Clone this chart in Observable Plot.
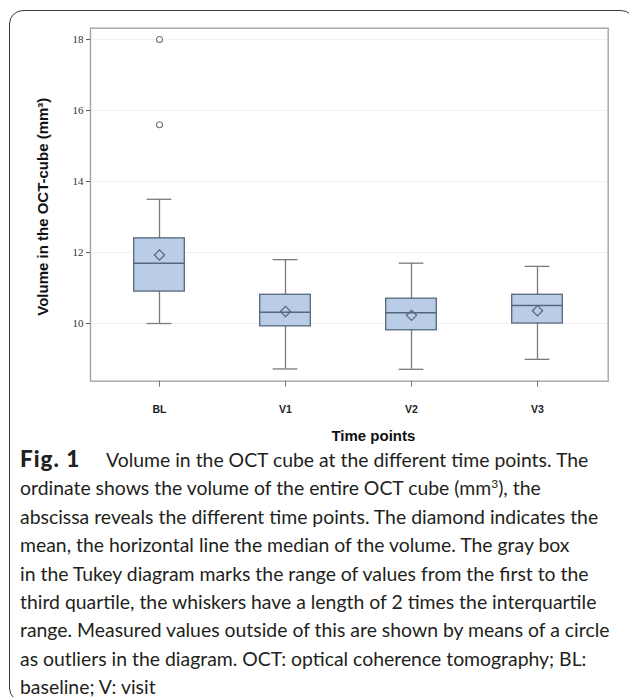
<!DOCTYPE html>
<html>
<head>
<meta charset="utf-8">
<script src="https://cdn.jsdelivr.net/npm/d3@7"></script>
<script src="https://cdn.jsdelivr.net/npm/@observablehq/plot@0.6"></script>
<style>
  html, body { margin: 0; padding: 0; background: #fff; width: 629px; height: 697px; overflow: hidden; }
  #wrap { position: relative; width: 629px; height: 697px; }
  #card { position: absolute; left: 9px; top: 10px; width: 626px; height: 692px; border: 1.3px solid #3a3a3a; border-radius: 14px; box-sizing: border-box; pointer-events: none; }
  #chart { position: absolute; left: 0; top: 0; }
  #caption { position: absolute; left: 20px; top: 446px; font-family: Lato, "Open Sans", sans-serif; font-size: 19.4px; line-height: 28.4px; color: #231f20; }
  #caption div { white-space: nowrap; }
  #caption b { font-weight: 900; font-size: 22.5px; letter-spacing: 1px; display: inline-block; width: 86px; line-height: 20px; }
</style>
</head>
<body>
<div id="wrap">
  <div id="chart"></div>
  <div id="card"></div>
  <div id="caption">
    <div><b>Fig. 1</b>Volume in the OCT cube at the different time points. The</div>
    <div>ordinate shows the volume of the entire OCT cube (mm<sup style="font-size:12px;line-height:0">3</sup>), the</div>
    <div>abscissa reveals the different time points. The diamond indicates the</div>
    <div>mean, the horizontal line the median of the volume. The gray box</div>
    <div>in the Tukey diagram marks the range of values from the first to the</div>
    <div>third quartile, the whiskers have a length of 2 times the interquartile</div>
    <div>range. Measured values outside of this are shown by means of a circle</div>
    <div>as outliers in the diagram. OCT: optical coherence tomography; BL:</div>
    <div>baseline; V: visit</div>
  </div>
</div>
<script>
const categories = ["BL", "V1", "V2", "V3"];
const whiskerLow = [10.0, 8.72, 8.71, 8.99];
const q1 = [10.9, 9.92, 9.81, 10.0];
const median = [11.7, 10.32, 10.3, 10.51];
const q3 = [12.4, 10.81, 10.7, 10.81];
const whiskerHigh = [13.5, 11.8, 11.7, 11.61];
const mean = [11.93, 10.34, 10.23, 10.36];
const outlierGroup = ["BL", "BL"];
const outlierValue = [18.0, 15.6];
const yTicks = [10, 12, 14, 16, 18];
const yTitle = "Volume in the OCT-cube (mm³)";
const xTitle = "Time points";

const boxes = categories.map((c, i) => ({
  group: c, lo: whiskerLow[i], q1: q1[i], med: median[i], q3: q3[i], hi: whiskerHigh[i], mean: mean[i]
}));
const outliers = outlierGroup.map((g, i) => ({group: g, value: outlierValue[i]}));

const boxStroke = "#56677c";
const whiskerColor = "#7b7b7b";
const bandHalfInset = 37.7;
const capInset = 50.6;

const chart = Plot.plot({
  width: 629,
  height: 450,
  marginLeft: 90,
  marginRight: 21.3,
  marginTop: 27.7,
  marginBottom: 69.3,
  style: {background: "transparent", overflow: "visible"},
  x: {type: "band", domain: categories, padding: 0, insetLeft: 6, insetRight: 7},
  y: {domain: [8.375, 18.32]},
  marks: [
    Plot.gridY(yTicks, {stroke: "#f1f1f1", strokeOpacity: 1, strokeWidth: 1}),
    Plot.frame({stroke: "#a3a3a3", strokeWidth: 1.4}),
    Plot.axisY(yTicks, {
      tickSize: 4, tickPadding: 3, stroke: "#555", color: "#333",
      fontFamily: "Liberation Serif, serif", fontSize: 11, label: null
    }),
    Plot.axisX({
      tickSize: 6, tickPadding: 18, stroke: "#777", color: "#222",
      fontFamily: "Liberation Sans, Arial, sans-serif", fontSize: 10.5, fontWeight: "bold", label: null
    }),
    Plot.ruleX(boxes, {x: "group", y1: "lo", y2: "hi", stroke: whiskerColor, strokeWidth: 1.3}),
    Plot.tickY(boxes, {x: "group", y: "lo", stroke: whiskerColor, strokeWidth: 1.3, insetLeft: capInset, insetRight: capInset}),
    Plot.tickY(boxes, {x: "group", y: "hi", stroke: whiskerColor, strokeWidth: 1.3, insetLeft: capInset, insetRight: capInset}),
    Plot.barY(boxes, {x: "group", y1: "q1", y2: "q3", fill: "#b9cde6", stroke: boxStroke, strokeWidth: 1.3, insetLeft: bandHalfInset, insetRight: bandHalfInset}),
    Plot.tickY(boxes, {x: "group", y: "med", stroke: boxStroke, strokeWidth: 1.5, insetLeft: bandHalfInset, insetRight: bandHalfInset}),
    Plot.dot(boxes, {x: "group", y: "mean", symbol: "diamond2", r: 4.6, stroke: boxStroke, strokeWidth: 1.2, fill: "none"}),
    Plot.dot(outliers, {x: "group", y: "value", r: 3, stroke: "#777", strokeWidth: 1.1, fill: "white"}),
    Plot.text([yTitle], {frameAnchor: "left", textAnchor: "middle", text: d => d, rotate: -90, dx: -47, dy: 2,
      fontFamily: "Liberation Sans, Arial, sans-serif", fontWeight: "bold", fontSize: 15, fill: "#111"}),
    Plot.text([xTitle], {frameAnchor: "bottom", text: d => d, dx: 24, dy: 60,
      fontFamily: "Liberation Sans, Arial, sans-serif", fontWeight: "bold", fontSize: 15, fill: "#111"})
  ]
});
document.getElementById("chart").appendChild(chart);
</script>
</body>
</html>
